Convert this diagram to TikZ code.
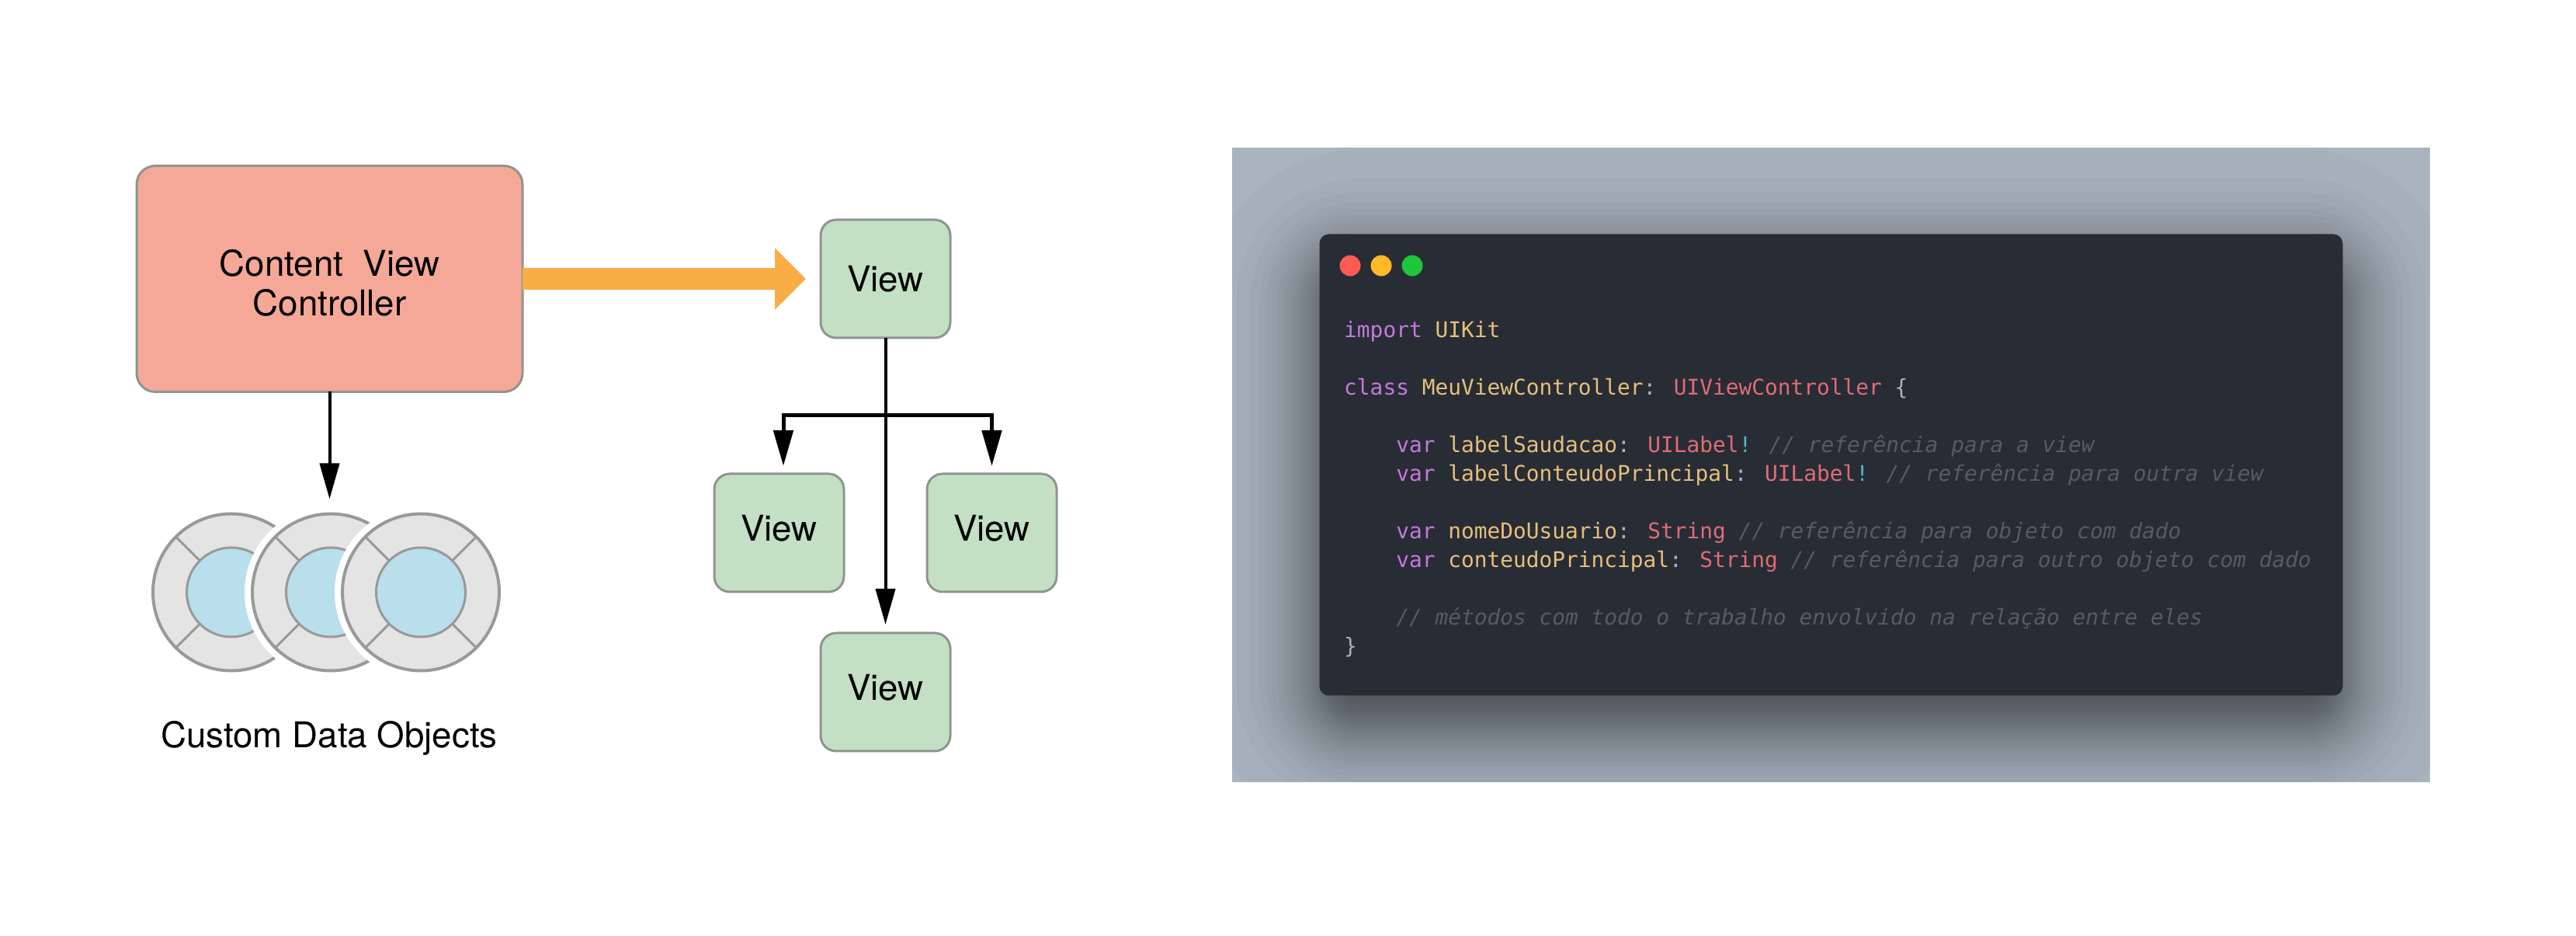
\documentclass[tikz,border=0pt]{standalone}
\usepackage{fontspec}
\setmainfont{TeX Gyre Heros}
\newfontfamily\codefont{DejaVu Sans Mono}
\usetikzlibrary{arrows.meta,positioning,calc}
\definecolor{ctrlfill}{HTML}{F5A897}
\definecolor{viewfill}{HTML}{C3E0C5}
\definecolor{blkline}{HTML}{8F958F}
\definecolor{flowcol}{HTML}{F8AD45}
\definecolor{dskfill}{HTML}{E4E4E4}
\definecolor{dskline}{HTML}{999999}
\definecolor{dskcore}{HTML}{B8DFEB}
\definecolor{bgcol}{HTML}{A9B4BF}
\definecolor{wincol}{HTML}{282C35}
\definecolor{dotred}{HTML}{FC5A55}
\definecolor{dotyel}{HTML}{FDB926}
\definecolor{dotgrn}{HTML}{1FC63B}
\definecolor{kwd}{HTML}{C678DD}
\definecolor{idn}{HTML}{E5C07B}
\definecolor{typ}{HTML}{E06C75}
\definecolor{bng}{HTML}{56B6C2}
\definecolor{pnc}{HTML}{ABB2BF}
\definecolor{cmt}{HTML}{555B67}
\newcommand{\kw}[1]{\textcolor{kwd}{#1}}
\newcommand{\id}[1]{\textcolor{idn}{#1}}
\newcommand{\ty}[1]{\textcolor{typ}{#1}}
\newcommand{\bn}[1]{\textcolor{bng}{#1}}
\newcommand{\pn}[1]{\textcolor{pnc}{#1}}
\newcommand{\cm}[1]{\textcolor{cmt}{\itshape #1}}
\tikzset{
  blk/.style={draw=blkline,rectangle,line width=.03cm,outer sep=0pt,align=center,
    font=\fontsize{13pt}{14.5pt}\selectfont},
  ctrlblk/.style={blk,fill=ctrlfill,minimum width=4.97cm,minimum height=2.91cm,rounded corners=.24cm},
  viewblk/.style={blk,fill=viewfill,minimum width=1.67cm,minimum height=1.52cm,rounded corners=.2cm},
  arr/.style={-{Triangle[length=.46cm,width=.25cm]},line width=.04cm,black},
  brarr/.style={arr,line width=.05cm,shorten >=.1cm},
  flowarr/.style={-{Triangle[length=.4cm,width=.77cm]},line width=.285cm,flowcol},
  dsk/.style={circle,draw=dskline,fill=dskfill,line width=.04cm,minimum size=2.02cm,inner sep=0pt,
    outer sep=0pt,preaction={draw=white,line width=.2cm}},
  dskin/.style={circle,draw=dskline,fill=dskcore,line width=.03cm,minimum size=1.15cm,inner sep=0pt,outer sep=0pt},
  spk/.style={draw=dskline,line width=.03cm},
  lbl/.style={font=\fontsize{13pt}{14.5pt}\selectfont,inner sep=0pt},
  winblk/.style={rectangle,fill=wincol,minimum width=13.18cm,minimum height=5.94cm,rounded corners=.12cm,outer sep=0pt},
  dot/.style={circle,minimum size=.27cm,inner sep=0pt,outer sep=0pt},
  codetxt/.style={inner sep=0pt,align=left,font=\codefont\fontsize{7.92pt}{10.52pt}\selectfont}
}

\begin{document}
\begin{tikzpicture}
  \useasboundingbox (0,0) rectangle (33.18,12.05);

  \node[ctrlblk] (ctrl) at (4.245,8.46) {\rule{0pt}{.44cm}Content\ \ View\\Controller};
  \node[viewblk, right=3.84cm of ctrl] (vtop) {View};
  \node[viewblk, below=1.75cm of vtop, xshift=-1.37cm] (vleft) {\raisebox{.12cm}{View}};
  \node[viewblk, below=1.75cm of vtop, xshift=1.37cm] (vright) {\raisebox{.12cm}{View}};
  \node[viewblk, below=3.8cm of vtop] (vbot) {\raisebox{.12cm}{View}};

  \node[dsk, below=1.57cm of ctrl, xshift=-1.265cm] (disc1) {};
  \node[dskin] (core1) at (disc1) {};
  \draw[spk] (core1.135)--(disc1.135) (core1.225)--(disc1.225);
  \node[dsk, right=-0.74cm of disc1] (disc2) {};
  \node[dskin] (core2) at (disc2) {};
  \draw[spk] (core2.135)--(disc2.135) (core2.225)--(disc2.225);
  \node[dsk, right=-0.86cm of disc2] (disc3) {};
  \node[dskin] (core3) at (disc3) {};
  \draw[spk] (core3.45)--(disc3.45) (core3.135)--(disc3.135) (core3.225)--(disc3.225) (core3.315)--(disc3.315);
  \node[lbl, below=.64cm of disc2, xshift=-.02cm] (datalbl) {Custom Data Objects};

  \coordinate (branch) at ($(vtop.south)+(0,-1)$);
  \coordinate (ctip) at ($(ctrl.south)+(0,-1.38)$);
  \draw[arr] (ctrl.south)--(ctip);
  \draw[flowarr, shorten >=.19cm] (ctrl.east)--(vtop.west);
  \draw[arr, shorten >=.11cm] (vtop.south)--(vbot.north);
  \draw[brarr] (branch) -| ([xshift=.055cm]vleft.north);
  \draw[brarr] (branch) -| (vright.north);

  \node[rectangle,fill=bgcol,minimum width=15.43cm,minimum height=8.17cm,outer sep=0pt] (bg) at (23.585,6.065) {};
  \node[winblk, fill=none] (win) at (bg) {};
  \begin{scope}
    \clip (bg.south west) rectangle (bg.north east);
    \foreach \i in {1,...,40} {
      \pgfmathsetmacro\d{.33*ln((\i-.5)/(40.5-\i))}
      \pgfmathsetmacro\rad{max(.12,.5+\d)}
      \fill[black,opacity=.02,rounded corners=\rad cm]
        ($(win.south west)+(-\d,-\d-.36)$) rectangle ($(win.north east)+(\d,\d-.36)$);
    }
  \end{scope}
  \node[winblk] (wintop) at (bg) {};
  \node[dot, fill=dotred, below right=.31cm and .3cm of wintop.north west] (dot1) {};
  \node[dot, fill=dotyel, right=.13cm of dot1] (dot2) {};
  \node[dot, fill=dotgrn, right=.13cm of dot2] (dot3) {};
  \node[codetxt, below right=1.11cm and .31cm of wintop.north west] (code) {%
    \kw{import} \id{UIKit}\\
    \\
    \kw{class} \id{MeuViewController}\pn{:} \ty{UIViewController} \pn{\{}\\
    \\
    \ \ \ \ \kw{var} \id{labelSaudacao}\pn{:} \ty{UILabel}\bn{!} \cm{// referência para a view}\\
    \ \ \ \ \kw{var} \id{labelConteudoPrincipal}\pn{:} \ty{UILabel}\bn{!} \cm{// referência para outra view}\\
    \\
    \ \ \ \ \kw{var} \id{nomeDoUsuario}\pn{:} \ty{String} \cm{// referência para objeto com dado}\\
    \ \ \ \ \kw{var} \id{conteudoPrincipal}\pn{:} \ty{String} \cm{// referência para outro objeto com dado}\\
    \\
    \ \ \ \ \cm{// métodos com todo o trabalho envolvido na relação entre eles}\\
    \pn{\}}};
\end{tikzpicture}
\end{document}
